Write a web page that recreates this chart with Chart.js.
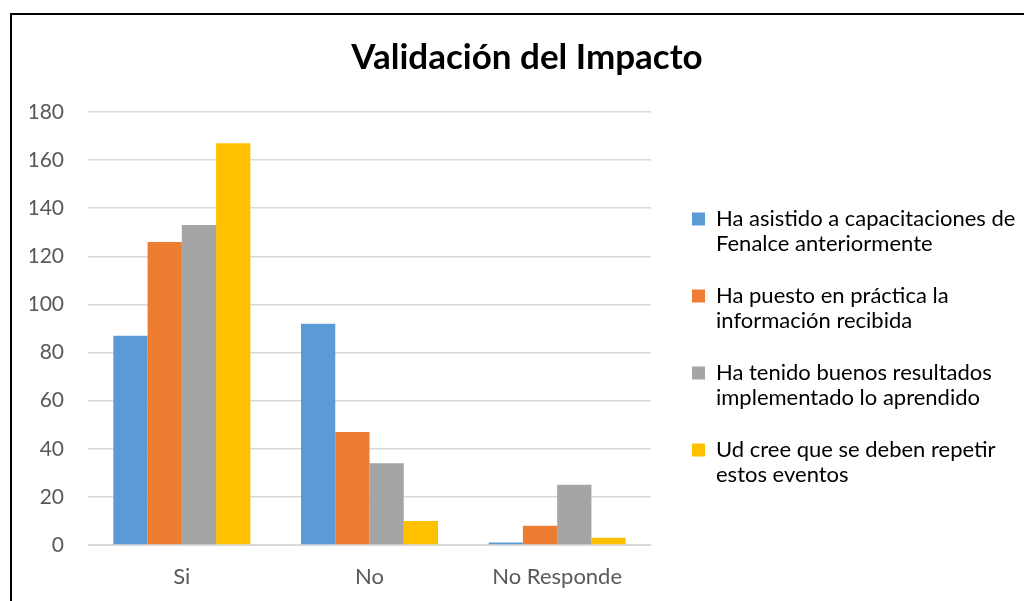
<!DOCTYPE html>
<html>
<head>
<meta charset="utf-8">
<script src="https://cdn.jsdelivr.net/npm/chart.js@4/dist/chart.umd.min.js"></script>
<style>
    body { margin: 0; background: #fff; overflow: hidden; }
    #wrap { position: relative; width: 1024px; height: 601px; overflow: hidden; }
    #frame {
        position: absolute; left: 10px; top: 13px;
        width: 1100px; height: 700px;
        border: 2px solid #000; pointer-events: none;
    }
    canvas { position: absolute; left: 0; top: 0; }
</style>
</head>
<body>
<div id="wrap">
    <canvas id="impactChart" width="1024" height="601"></canvas>
    <div id="frame"></div>
</div>
<script>
const categories = ['Si', 'No', 'No Responde'];

const seriesNames = [
    ['Ha asistido a capacitaciones de', 'Fenalce anteriormente'],
    ['Ha puesto en práctica la', 'información recibida'],
    ['Ha tenido buenos resultados', 'implementado lo aprendido'],
    ['Ud cree que se deben repetir', 'estos eventos']
];

const asistido = [87, 92, 1];
const practica = [126, 47, 8];
const resultados = [133, 34, 25];
const repetir = [167, 10, 3];

const yTicks = [0, 20, 40, 60, 80, 100, 120, 140, 160, 180];

const colors = ['#5B9BD5', '#ED7D31', '#A5A5A5', '#FFC000'];

// keep the legend where Excel put it
const legendSpot = {
    id: 'legendSpot',
    beforeInit(chart) {
        const fit = chart.legend.fit;
        chart.legend.fit = function () {
            fit.call(this);
            this.width = 373;
        };
    },
    afterLayout(chart) {
        const lg = chart.legend;
        lg.left = 665;
        lg.right = lg.left + lg.width;
        lg.top = 181;
        lg.bottom = lg.top + 420;
    }
};

const ctx = document.getElementById('impactChart').getContext('2d');
new Chart(ctx, {
    type: 'bar',
    data: {
        labels: categories,
        datasets: [asistido, practica, resultados, repetir].map((data, i) => ({
            label: seriesNames[i],
            data,
            backgroundColor: colors[i],
            borderWidth: 0,
            barPercentage: 1.0,
            categoryPercentage: 0.73
        }))
    },
    options: {
        responsive: false,
        animation: false,
        layout: { padding: { left: 30, right: 0, top: 14, bottom: 12 } },
        plugins: {
            title: {
                display: true,
                text: 'Validación del Impacto',
                color: '#000',
                font: { family: 'Lato', size: 35, weight: 'bold', lineHeight: 1.2 },
                padding: { top: 23, bottom: 33 }
            },
            legend: {
                position: 'right',
                align: 'start',
                labels: {
                    color: '#000',
                    boxWidth: 13,
                    boxHeight: 13,
                    padding: 27,
                    font: { family: 'Lato', size: 22, lineHeight: 25 / 22 }
                }
            },
            tooltip: { enabled: false }
        },
        scales: {
            x: {
                grid: { display: false, drawTicks: false },
                border: { display: true, color: '#D9D9D9', width: 1 },
                ticks: {
                    color: '#595959',
                    padding: 19,
                    font: { family: 'Lato', size: 22, lineHeight: 1.2 }
                },
                afterFit(scale) { scale.height = 44; }
            },
            y: {
                min: 0,
                max: 180,
                afterBuildTicks(scale) {
                    scale.ticks = yTicks.map(v => ({ value: v }));
                },
                grid: { color: '#D9D9D9', lineWidth: 1.5, drawTicks: false },
                border: { display: false },
                ticks: {
                    color: '#595959',
                    padding: 24,
                    font: { family: 'Lato', size: 21 }
                },
                afterFit(scale) { scale.width = 58; }
            }
        }
    },
    plugins: [legendSpot]
});
</script>
</body>
</html>
